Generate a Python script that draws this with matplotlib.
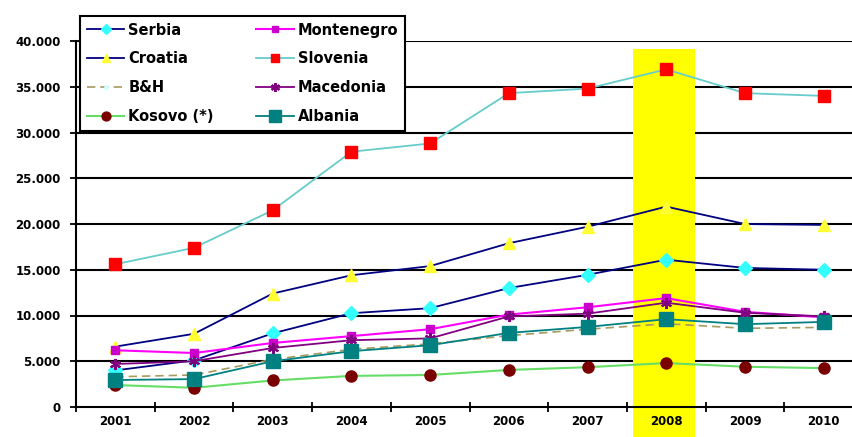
import matplotlib
matplotlib.use("Agg")
import matplotlib.pyplot as plt
import matplotlib.transforms as mtransforms
from matplotlib.patches import Rectangle
from matplotlib.ticker import FuncFormatter

years = ["2001", "2002", "2003", "2004", "2005", "2006", "2007", "2008", "2009", "2010"]
serbia = [4000, 5100, 8050, 10250, 10800, 13000, 14450, 16100, 15200, 15000]
croatia = [6600, 8000, 12400, 14400, 15400, 17900, 19700, 21900, 20000, 19900]
bih = [3300, 3500, 5200, 6300, 6900, 7800, 8500, 9100, 8600, 8700]
kosovo = [2400, 2100, 2900, 3400, 3500, 4050, 4350, 4800, 4400, 4250]
montenegro = [6200, 5900, 7000, 7750, 8500, 10100, 10900, 11900, 10400, 9800]
slovenia = [15600, 17400, 21500, 27900, 28800, 34300, 34800, 36900, 34300, 34000]
macedonia = [4700, 5000, 6450, 7300, 7500, 9900, 10200, 11400, 10300, 9900]
albania = [2950, 3050, 5000, 6100, 6750, 8100, 8750, 9600, 9050, 9300]
highlight_year = "2008"

W, H = 852, 437
fig = plt.figure(figsize=(W / 100, H / 100), dpi=100)
ax = fig.add_axes([76 / W, 30 / H, 787 / W, 366 / H])

x = [i + 0.5 for i in range(len(years))]

yticks = list(range(0, 40001, 5000))
# horizontal gridlines (drawn below the highlight band)
for yv in yticks[1:]:
    ax.axhline(yv, color="black", lw=1.5, zorder=1)

# highlight band (extends below the axis to the figure bottom)
hi = years.index(highlight_year)
trans = mtransforms.blended_transform_factory(ax.transData, fig.transFigure)
ax.add_patch(Rectangle((hi + 0.08, 0), 0.78, (H - 49) / H, transform=trans,
                       facecolor="#FFFF00", edgecolor="none", zorder=1.5, clip_on=False))

series = [
    ("Serbia", serbia, dict(color="#000080", marker="D", mfc="#33FFFF", mec="#33FFFF", ms=7, lw=1.3)),
    ("Croatia", croatia, dict(color="#000080", marker="^", mfc="#FFFF33", mec="#FFFF33", ms=8, lw=1.3)),
    ("B&H", bih, dict(color="#A89A60", marker="o", mfc="#CCFFFF", mec="#CCFFFF", ms=3, lw=1.2, ls=(0, (5, 3)))),
    ("Kosovo (*)", kosovo, dict(color="#66DD66", marker="o", mfc="#7A0000", mec="#7A0000", ms=8, lw=1.5)),
    ("Montenegro", montenegro, dict(color="#FF00FF", marker="s", mfc="#CC00CC", mec="#CC00CC", ms=6, lw=1.5)),
    ("Slovenia", slovenia, dict(color="#66CCCC", marker="s", mfc="#FF0000", mec="#FF0000", ms=8, lw=1.3)),
    ("Macedonia", macedonia, dict(color="#800080", marker=(6, 2, 0), mfc="#800080", mec="#800080", ms=8, mew=1.5, lw=1.3)),
    ("Albania", albania, dict(color="#008080", marker="s", mfc="#008080", mec="#008080", ms=10, lw=1.3)),
]
handles = {}
for name, vals, st in series:
    (h,) = ax.plot(x, vals, label=name, zorder=3, **st)
    handles[name] = h

ax.set_xlim(0, len(years))
ax.set_ylim(0, 40000)
ax.set_yticks(yticks)
ax.yaxis.set_major_formatter(FuncFormatter(lambda v, p: f"{int(v):,}".replace(",", ".")))
ax.set_xticks(range(0, len(years) + 1))
ax.set_xticklabels([])
ax.set_xticks(x, minor=True)
ax.set_xticklabels(years, minor=True)
ax.tick_params(axis="x", which="minor", length=0, pad=6, labelsize=8.5)
ax.tick_params(axis="x", which="major", direction="inout", length=7, width=1.3)
ax.tick_params(axis="y", direction="inout", length=8, width=1.3, pad=7, labelsize=8.5)
for lab in ax.get_xticklabels(minor=True) + ax.get_yticklabels():
    lab.set_fontweight("bold")
    lab.set_family("DejaVu Sans")
ax.xaxis.set_zorder(4)
ax.yaxis.set_zorder(4)
for s in ["top", "right"]:
    ax.spines[s].set_visible(False)
for s in ["left", "bottom"]:
    ax.spines[s].set_linewidth(1.5)
    ax.spines[s].set_zorder(2.5)

order = ["Serbia", "Croatia", "B&H", "Kosovo (*)", "Montenegro", "Slovenia", "Macedonia", "Albania"]
leg = fig.legend([handles[n] for n in order], order, ncol=2,
                 bbox_to_anchor=(80 / W, 1 - 133 / H, 325 / W, 117 / H),
                 loc="upper left", mode="expand", borderaxespad=0,
                 prop={"family": "DejaVu Sans", "weight": "bold", "size": 10.5},
                 fancybox=False, framealpha=1, edgecolor="black",
                 handlelength=2.6, labelspacing=0.95, columnspacing=0.5,
                 handletextpad=0.25, borderpad=0.45, markerscale=0.8)
leg.get_frame().set_linewidth(1.5)
leg.set_zorder(5)

fig.savefig("out.png", dpi=100)
